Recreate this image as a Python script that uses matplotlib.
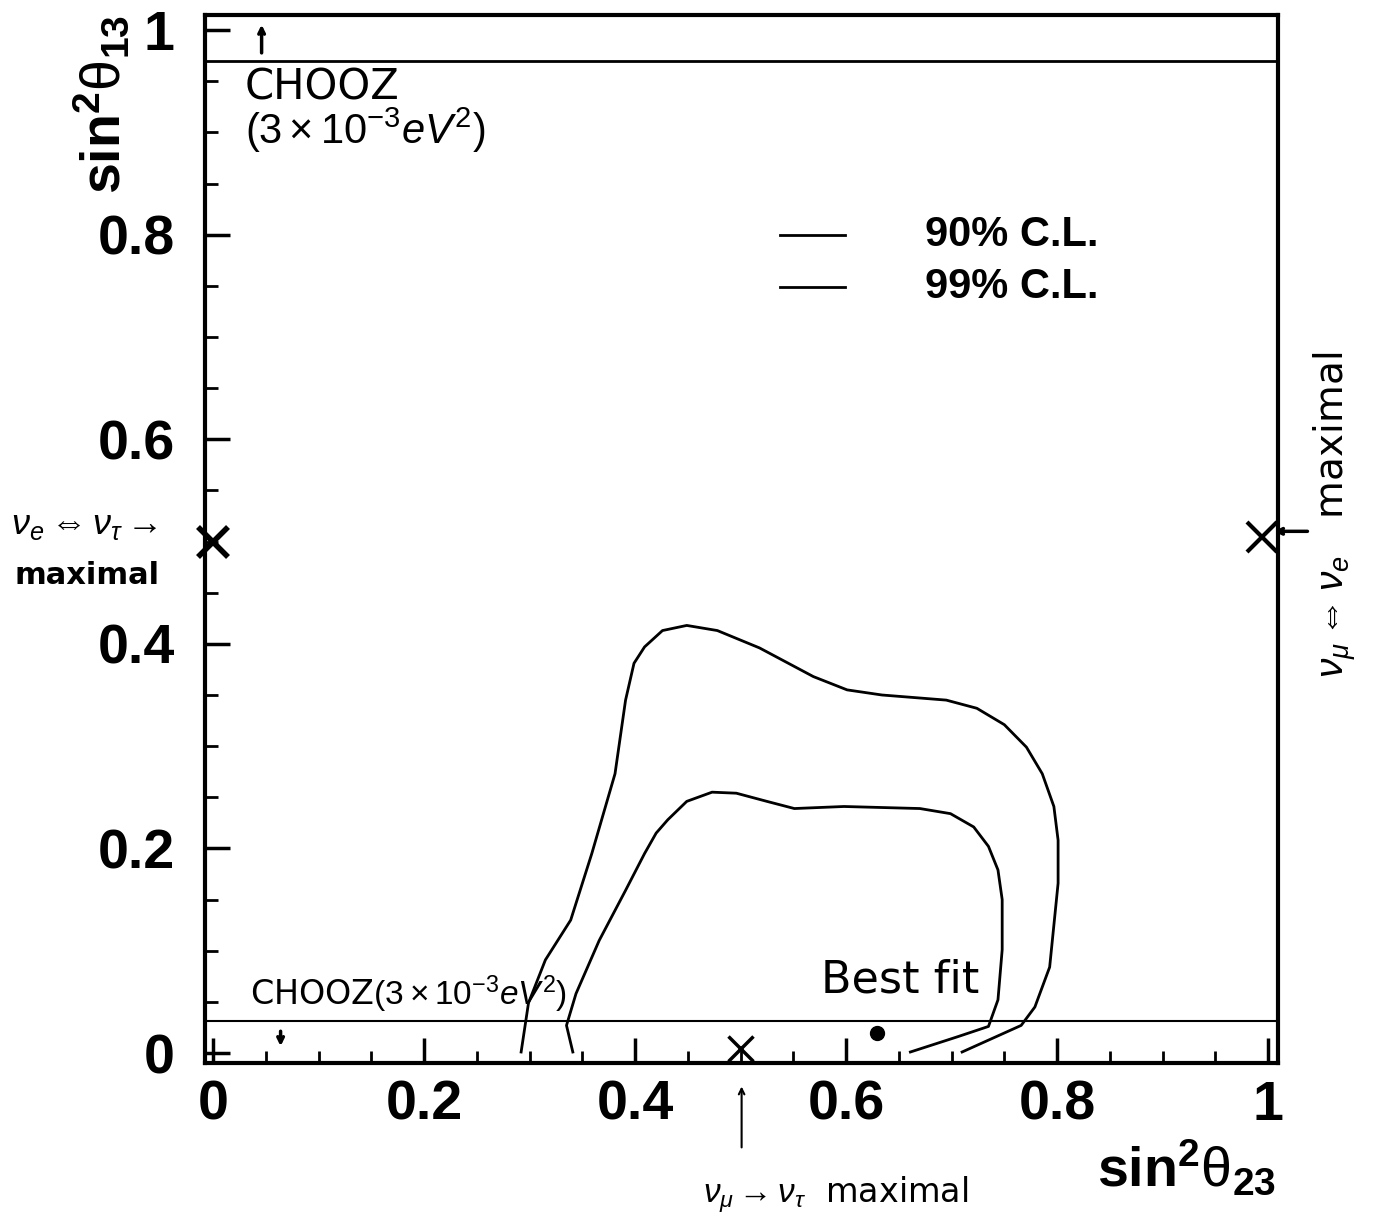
import numpy as np
import matplotlib
matplotlib.use("Agg")
import matplotlib.pyplot as plt

plt.rcParams['mathtext.fontset'] = 'custom'
plt.rcParams['mathtext.rm'] = 'Liberation Sans'
plt.rcParams['mathtext.it'] = 'Liberation Sans:italic'
plt.rcParams['mathtext.bf'] = 'Liberation Sans:bold'
plt.rcParams['font.family'] = ['Liberation Sans', 'DejaVu Sans']

# 99% C.L. contour (outer)
outer_x = [0.292, 0.299, 0.315, 0.339, 0.359, 0.381, 0.391, 0.399, 0.409, 0.426,
           0.449, 0.478, 0.518, 0.569, 0.601, 0.634, 0.695, 0.724, 0.750, 0.771,
           0.786, 0.797, 0.801, 0.801, 0.793, 0.779, 0.766, 0.710]
outer_y = [0.001, 0.049, 0.091, 0.130, 0.195, 0.273, 0.345, 0.381, 0.397, 0.413,
           0.418, 0.413, 0.396, 0.368, 0.355, 0.350, 0.345, 0.337, 0.321, 0.299,
           0.273, 0.241, 0.208, 0.166, 0.084, 0.045, 0.027, 0.001]

# 90% C.L. contour (inner)
inner_x = [0.341, 0.335, 0.344, 0.366, 0.391, 0.409, 0.420, 0.431, 0.449, 0.473,
           0.496, 0.525, 0.551, 0.598, 0.670, 0.699, 0.721, 0.735, 0.744, 0.748,
           0.748, 0.744, 0.735, 0.706, 0.661]
inner_y = [0.001, 0.027, 0.058, 0.110, 0.159, 0.195, 0.215, 0.228, 0.246, 0.255,
           0.254, 0.246, 0.239, 0.241, 0.239, 0.234, 0.221, 0.202, 0.179, 0.150,
           0.101, 0.052, 0.026, 0.016, 0.001]

chooz_top = 0.97
chooz_bottom = 0.031
best_fit = (0.629, 0.0196)
maximal_x = [0.0, 0.4995, 0.994]
maximal_y = [0.5, 0.005, 0.504]

xticks = [0, 0.2, 0.4, 0.6, 0.8, 1]
xticklabels = ['0', '0.2', '0.4', '0.6', '0.8', '1']
yticks = [0, 0.2, 0.4, 0.6, 0.8, 1]
yticklabels = ['0', '0.2', '0.4', '0.6', '0.8', '1']

fig = plt.figure(figsize=(13.79, 12.24), dpi=100)
ax = fig.add_axes([0.1487, 0.1315, 0.7781, 0.8562])
ax.set_xlim(-0.0076, 1.0095)
ax.set_ylim(-0.0098, 1.0147)

ax.plot(outer_x, outer_y, color='black', lw=2)
ax.plot(inner_x, inner_y, color='black', lw=2)

ax.axhline(chooz_top, color='black', lw=2)
ax.axhline(chooz_bottom, color='black', lw=1.5)

for s in ax.spines.values():
    s.set_linewidth(3)

ax.set_xticks(xticks)
ax.set_xticklabels(xticklabels)
ax.set_yticks(yticks)
ax.set_yticklabels(yticklabels)
ax.set_xticks(np.arange(0, 1.01, 0.05), minor=True)
ax.set_yticks(np.arange(0, 1.01, 0.05), minor=True)
ax.tick_params(which='major', direction='in', length=18, width=2.5, labelsize=40, pad=12)
ax.tick_params(which='minor', direction='in', length=9, width=2)
ax.tick_params(axis='y', which='major', pad=22)
for lab in ax.get_xticklabels() + ax.get_yticklabels():
    lab.set_fontweight('bold')

# axis titles
fig.text(0.925, 0.045, r'$\mathbf{sin}^{\mathbf{2}}\mathrm{\theta}_{\mathbf{23}}$',
         fontsize=40, ha='right', va='center')
fig.text(0.074, 0.915, r'$\mathbf{sin}^{\mathbf{2}}\mathrm{\theta}_{\mathbf{13}}$',
         fontsize=40, ha='center', va='center', rotation=90)

# legend
ax.plot([0.537, 0.599], [0.80, 0.80], color='black', lw=2)
ax.plot([0.537, 0.599], [0.749, 0.749], color='black', lw=2)
ax.text(0.675, 0.80, '90% C.L.', fontsize=30, fontweight='bold', va='center')
ax.text(0.675, 0.749, '99% C.L.', fontsize=30, fontweight='bold', va='center')

# hand-written annotations
hw = dict(family='DejaVu Sans', color='black', clip_on=False)
ax.text(0.030, 0.944, 'CHOOZ', fontsize=30, va='center', **hw)
ax.text(0.030, 0.902, r'$(3\times10^{-3}eV^2)$', fontsize=30, va='center', **hw)
ax.annotate('', xy=(0.046, 1.008), xytext=(0.046, 0.975),
            arrowprops=dict(arrowstyle='->', lw=2.5, color='black'))
ax.text(0.035, 0.057, r'CHOOZ$(3\times10^{-3}eV^2)$', fontsize=24, va='center', **hw)
ax.annotate('', xy=(0.064, 0.004), xytext=(0.064, 0.024),
            arrowprops=dict(arrowstyle='->', lw=2.5, color='black'))

ax.plot(maximal_x[0], maximal_y[0], marker='x', ms=22, mew=4, color='black', clip_on=False)
ax.plot(maximal_x[1], maximal_y[1], marker='x', ms=18, mew=2.5, color='black', clip_on=False)
ax.plot(maximal_x[2], maximal_y[2], marker='x', ms=22, mew=3, color='black', clip_on=False)

ax.text(-0.192, 0.516, r'$\nu_e\Leftrightarrow\nu_\tau\rightarrow$', fontsize=26,
        va='center', ha='left', **hw)
ax.text(-0.188, 0.467, 'maximal', fontsize=22, va='center', ha='left', fontweight='bold',
        family='DejaVu Sans', clip_on=False)

ax.annotate('', xy=(1.003, 0.510), xytext=(1.040, 0.510),
            arrowprops=dict(arrowstyle='->', lw=2.5, color='black'),
            annotation_clip=False)
ax.text(1.064, 0.526, r'$\nu_\mu\Leftrightarrow\nu_e$   maximal', fontsize=28,
        rotation=90, va='center', ha='center', **hw)

ax.annotate('', xy=(0.501, -0.030), xytext=(0.501, -0.095),
            arrowprops=dict(arrowstyle='->', lw=1.5, color='black'),
            annotation_clip=False)
ax.text(0.59, -0.139, r'$\nu_\mu\rightarrow\nu_\tau$  maximal', fontsize=24,
        va='center', ha='center', **hw)

ax.text(0.651, 0.071, 'Best fit', fontsize=32, va='center', ha='center', **hw)
ax.plot(best_fit[0], best_fit[1], 'o', ms=10, color='black')

fig.savefig('out.png', dpi=100)
